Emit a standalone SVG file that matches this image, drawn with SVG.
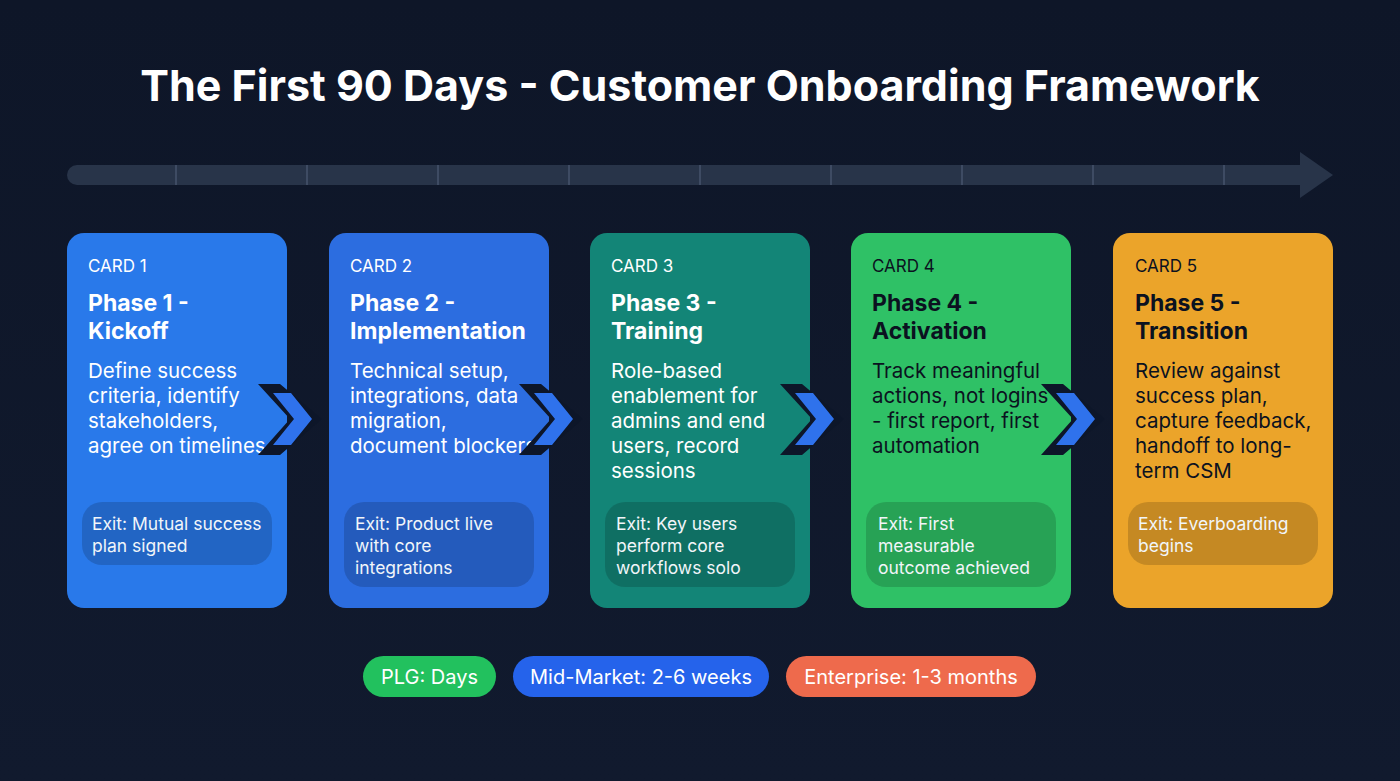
<svg xmlns="http://www.w3.org/2000/svg" width="1400" height="781" viewBox="0 0 1400 781">
<defs>
<style>
text{font-family:"Inter","Liberation Sans",sans-serif}
.ttl{font-size:43px;font-weight:700;fill:#fff}
.lbl{font-size:17px}
.hd{font-size:23px;font-weight:700}
.ds{font-size:20.5px}
.ex{font-size:17.5px;fill:#f1f5f9}
.w{fill:#fff}.d{fill:#0b1220}
.exbox{fill:#000;fill-opacity:0.16}
.pill{font-size:20px;fill:#fff}
.chd{fill:#0d1629}.chb{fill:#2f72ec}
</style>
<linearGradient id="bg" x1="0" y1="0" x2="0" y2="1"><stop offset="0" stop-color="#0e1628"/><stop offset="1" stop-color="#111a2e"/></linearGradient>
</defs>
<rect width="1400" height="781" fill="url(#bg)"/>
<text class="ttl" x="700" y="101" text-anchor="middle">The First 90 Days - Customer Onboarding Framework</text>
<g id="timeline">
<rect x="67" y="165" width="1245" height="20" rx="10" fill="#283449"/>
<polygon points="1300,152 1333,175 1300,198" fill="#283449"/>
<g stroke="#3e4b63" stroke-width="2">
<line x1="176" y1="165" x2="176" y2="185"/><line x1="307" y1="165" x2="307" y2="185"/><line x1="438" y1="165" x2="438" y2="185"/><line x1="569" y1="165" x2="569" y2="185"/><line x1="700" y1="165" x2="700" y2="185"/><line x1="831" y1="165" x2="831" y2="185"/><line x1="962" y1="165" x2="962" y2="185"/><line x1="1093" y1="165" x2="1093" y2="185"/><line x1="1224" y1="165" x2="1224" y2="185"/>
</g>
</g>
<g id="card1">
<rect x="67" y="233" width="220" height="375" rx="17" fill="#2979ea"/>
<text class="lbl w" x="88" y="272">CARD 1</text>
<text class="hd w" x="88" y="311">Phase 1 -</text><text class="hd w" x="88" y="339">Kickoff</text>
<text class="ds w" x="88" y="378">Define success</text><text class="ds w" x="88" y="403">criteria, identify</text><text class="ds w" x="88" y="428">stakeholders,</text><text class="ds w" x="88" y="453">agree on timelines</text>
<rect class="exbox" x="82" y="502" width="190" height="63" rx="20"/>
<text class="ex" x="92" y="530">Exit: Mutual success</text><text class="ex" x="92" y="552">plan signed</text>
</g>
<g id="card2">
<rect x="329" y="233" width="220" height="375" rx="17" fill="#2c6de0"/>
<text class="lbl w" x="350" y="272">CARD 2</text>
<text class="hd w" x="350" y="311">Phase 2 -</text><text class="hd w" x="350" y="339">Implementation</text>
<text class="ds w" x="350" y="378">Technical setup,</text><text class="ds w" x="350" y="403">integrations, data</text><text class="ds w" x="350" y="428">migration,</text><text class="ds w" x="350" y="453">document blockers</text>
<rect class="exbox" x="344" y="502" width="190" height="85" rx="20"/>
<text class="ex" x="355" y="530">Exit: Product live</text><text class="ex" x="355" y="552">with core</text><text class="ex" x="355" y="574">integrations</text>
</g>
<g id="card3">
<rect x="590" y="233" width="220" height="375" rx="17" fill="#138577"/>
<text class="lbl w" x="611" y="272">CARD 3</text>
<text class="hd w" x="611" y="311">Phase 3 -</text><text class="hd w" x="611" y="339">Training</text>
<text class="ds w" x="611" y="378">Role-based</text><text class="ds w" x="611" y="403">enablement for</text><text class="ds w" x="611" y="428">admins and end</text><text class="ds w" x="611" y="453">users, record</text><text class="ds w" x="611" y="478">sessions</text>
<rect class="exbox" x="605" y="502" width="190" height="85" rx="20"/>
<text class="ex" x="616" y="530">Exit: Key users</text><text class="ex" x="616" y="552">perform core</text><text class="ex" x="616" y="574">workflows solo</text>
</g>
<g id="card4">
<rect x="851" y="233" width="220" height="375" rx="17" fill="#2fc166"/>
<text class="lbl d" x="872" y="272">CARD 4</text>
<text class="hd d" x="872" y="311">Phase 4 -</text><text class="hd d" x="872" y="339">Activation</text>
<text class="ds d" x="872" y="378">Track meaningful</text><text class="ds d" x="872" y="403">actions, not logins</text><text class="ds d" x="872" y="428">- first report, first</text><text class="ds d" x="872" y="453">automation</text>
<rect class="exbox" x="866" y="502" width="190" height="85" rx="20"/>
<text class="ex" x="878" y="530">Exit: First</text><text class="ex" x="878" y="552">measurable</text><text class="ex" x="878" y="574">outcome achieved</text>
</g>
<g id="card5">
<rect x="1113" y="233" width="220" height="375" rx="17" fill="#eba42a"/>
<text class="lbl d" x="1135" y="272">CARD 5</text>
<text class="hd d" x="1135" y="311">Phase 5 -</text><text class="hd d" x="1135" y="339">Transition</text>
<text class="ds d" x="1135" y="378">Review against</text><text class="ds d" x="1135" y="403">success plan,</text><text class="ds d" x="1135" y="428">capture feedback,</text><text class="ds d" x="1135" y="453">handoff to long-</text><text class="ds d" x="1135" y="478">term CSM</text>
<rect class="exbox" x="1128" y="502" width="190" height="63" rx="20"/>
<text class="ex" x="1138" y="530">Exit: Everboarding</text><text class="ex" x="1138" y="552">begins</text>
</g>
<g id="connectors">
<g transform="translate(0,0)"><polygon class="chd" points="258,384 280,384 322,419 280,455 258,455 290,419"/><polygon class="chb" points="273,393 291,393 312,419 291,445 273,445 294,419"/></g>
<g transform="translate(261,0)"><polygon class="chd" points="258,384 280,384 322,419 280,455 258,455 290,419"/><polygon class="chb" points="273,393 291,393 312,419 291,445 273,445 294,419"/></g>
<g transform="translate(522,0)"><polygon class="chd" points="258,384 280,384 322,419 280,455 258,455 290,419"/><polygon class="chb" points="273,393 291,393 312,419 291,445 273,445 294,419"/></g>
<g transform="translate(783,0)"><polygon class="chd" points="258,384 280,384 322,419 280,455 258,455 290,419"/><polygon class="chb" points="273,393 291,393 312,419 291,445 273,445 294,419"/></g>
</g>
<g id="legend">
<rect x="363" y="656" width="133" height="41" rx="20.5" fill="#22c15e"/>
<text class="pill" x="429.5" y="684" text-anchor="middle">PLG: Days</text>
<rect x="513" y="656" width="256" height="41" rx="20.5" fill="#2563eb"/>
<text class="pill" x="641" y="684" text-anchor="middle">Mid-Market: 2-6 weeks</text>
<rect x="786" y="656" width="250" height="41" rx="20.5" fill="#ee6a4c"/>
<text class="pill" x="911" y="684" text-anchor="middle">Enterprise: 1-3 months</text>
</g>
</svg>
